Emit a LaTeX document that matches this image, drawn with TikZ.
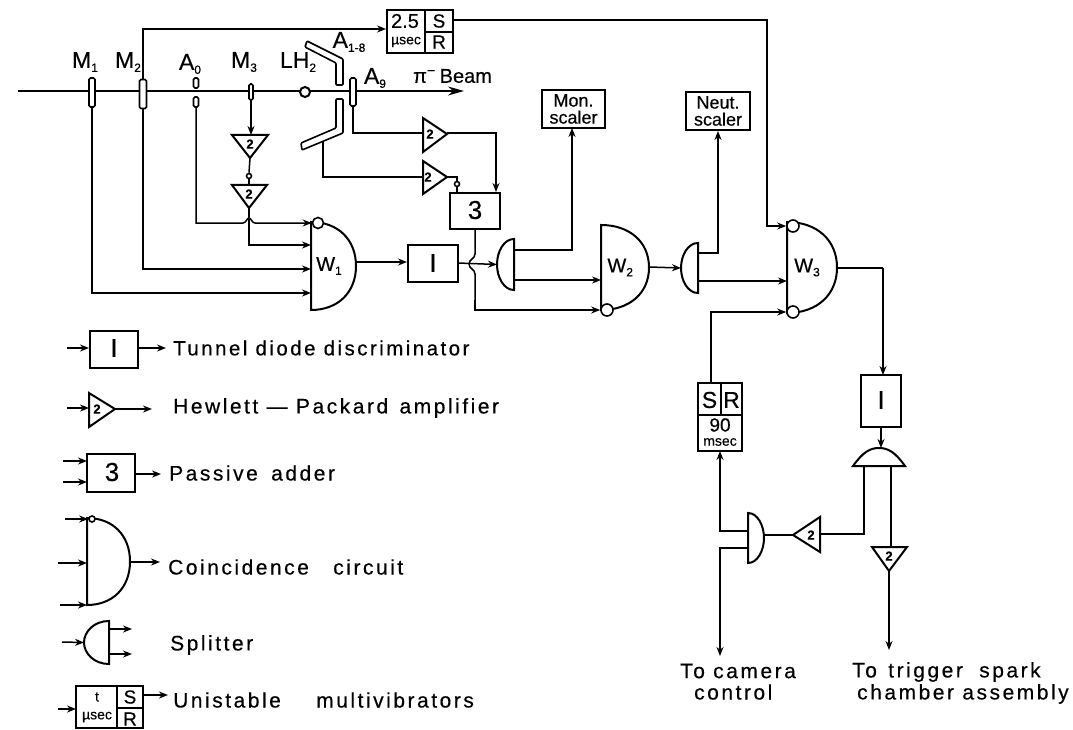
\documentclass[tikz,border=0pt]{standalone}
\usepackage{fontspec}
\setmainfont[FakeBold=0.4]{Liberation Sans}
\newfontfamily\wide[LetterSpace=12,FakeBold=0.4]{Liberation Sans}
\usetikzlibrary{arrows.meta}
\newcommand{\lowsub}[1]{\raisebox{-4pt}{\fontsize{12}{12}\selectfont #1}}
\tikzset{
  x=1pt,y=-1pt,
  line join=round,
  wire/.style={line width=1.5pt},
  arr/.style={wire,-{Stealth[length=9pt,width=7pt]}},
  blk/.style={draw,line width=2pt,inner sep=0pt},
  shape line/.style={line width=2pt},
  paddle/.style={draw,line width=1.6pt,fill=white,rounded corners=1.5pt,inner sep=0pt},
  bubble/.style={circle,draw,line width=1.6pt,fill=white,inner sep=0pt,minimum size=#1},
  lab/.style={font=\fontsize{23}{23}\selectfont,inner sep=0pt},
  small/.style={font=\fontsize{14}{14}\selectfont,inner sep=0pt},
  mid/.style={font=\fontsize{19}{19}\selectfont,inner sep=0pt,align=center},
  big/.style={font=\fontsize{26}{26}\selectfont,inner sep=0pt},
  legend/.style={anchor=west,inner sep=0pt,font=\fontsize{21}{21}\selectfont\wide},
  ampnum/.style={inner sep=0pt,font=\fontsize{13}{13}\selectfont\bfseries},
}
\newcommand{\dright}[6]{% name,x,top,bottom,width,label
  \draw[shape line] (#2,#3) -- (#2,#4) .. controls ({#2+0.6*#5},#4) and ({#2+#5},{(#3+#4)/2+0.30*(#4-#3)}) .. ({#2+#5},{(#3+#4)/2})
    .. controls ({#2+#5},{(#3+#4)/2-0.30*(#4-#3)}) and ({#2+0.6*#5},#3) .. cycle;
  \node[lab,font=\fontsize{20}{20}\selectfont] (#1) at ({#2+0.4*#5},{(#3+#4)/2}) {#6};}
\newcommand{\dleft}[5]{% name,x,top,bottom,width
  \draw[shape line] (#2,#3) -- (#2,#4) .. controls ({#2-0.6*#5},#4) and ({#2-#5},{(#3+#4)/2+0.25*(#4-#3)}) .. ({#2-#5},{(#3+#4)/2})
    .. controls ({#2-#5},{(#3+#4)/2-0.25*(#4-#3)}) and ({#2-0.6*#5},#3) .. cycle;
  \coordinate (#1) at ({#2-#5},{(#3+#4)/2});}
\newcommand{\amp}[5]{% name, p1,p2,p3 (apex), label pos
  \draw[shape line,fill=white] (#2) -- (#3) -- (#4) -- cycle;
  \node[ampnum] (#1) at (#5) {2};}
\begin{document}
\begin{tikzpicture}
\useasboundingbox (0,0) rectangle (1073,730);
% ---------- beam ----------
\coordinate (bs) at (18,91);
\coordinate (be) at (464,91);
\draw[wire,-{Stealth[length=16pt,width=9pt]}] (bs) -- (be);
\node[paddle,minimum width=6pt,minimum height=29pt] (M1p) at (92,92.5) {};
\node[paddle,minimum width=7pt,minimum height=29pt] (M2p) at (143,94) {};
\node[paddle,minimum width=5pt,minimum height=10pt] (A0a) at (196,83) {};
\node[paddle,minimum width=5pt,minimum height=10pt] (A0b) at (196,102) {};
\node[paddle,minimum width=4pt,minimum height=16pt] (M3p) at (251,92) {};
\node[circle,draw,line width=2pt,fill=white,inner sep=0pt,minimum size=10pt] (LH) at (305,92) {};
\node[paddle,minimum width=6pt,minimum height=28pt] (A9p) at (353,92) {};
% A1-8 counters
\draw[line width=1.6pt,fill=white,rounded corners=1pt] (307,41) -- (343,59) -- (343,85) -- (336,85) -- (336,63) -- (305,47) -- cycle;
\draw[line width=1.6pt,fill=white,rounded corners=1pt] (336,99) -- (343,99) -- (343,133) -- (302,150) -- (301,143) -- (336,128) -- cycle;
\coordinate (Alow) at (323,142);
% labels
\node[lab] (tM1) at (85,62) {M\lowsub{1}};
\node[lab] (tM2) at (128,62) {M\lowsub{2}};
\node[lab] (tA0) at (190,64) {A\lowsub{0}};
\node[lab] (tM3) at (244,62) {M\lowsub{3}};
\node[lab] (tLH) at (298,62) {LH\lowsub{2}};
\node[lab] (tA18) at (349,42) {A\lowsub{1-8}};
\node[lab] (tA9) at (375,78) {A\lowsub{9}};
\node[lab,anchor=west,font=\fontsize{20}{20}\selectfont] (tbeam) at (413,76) {π\textsuperscript{−}\hspace{4pt}{Beam}};
% ---------- blocks ----------
\node[blk,minimum width=66pt,minimum height=43pt] (U) at (420,31.5) {};
\draw[line width=1.6pt] (425,10) -- (425,53) (425,32) -- (453,32);
\node[mid,font=\fontsize{20}{20}\selectfont] (U1) at (405,21) {2.5};
\node[small] (U2) at (406,42) {µsec};
\node[mid] (U3) at (439,21) {S};
\node[mid] (U4) at (439,42) {R};
\node[blk,minimum width=50pt,minimum height=37pt] (D1) at (433,263.5) {};
\node[big] (D1t) at (433,263) {I};
\node[blk,minimum width=50pt,minimum height=36pt] (Add) at (475,211) {};
\node[big] (Addt) at (475,210) {3};
\node[blk,minimum width=63pt,minimum height=38pt,mid,font=\fontsize{18}{17}\selectfont] (Mon) at (573.5,109) {Mon.\\scaler};
\node[blk,minimum width=64pt,minimum height=38pt,mid,font=\fontsize{18}{17}\selectfont] (Neut) at (718,111) {Neut.\\scaler};
\node[blk,minimum width=40pt,minimum height=52pt] (D2) at (881,401) {};
\node[big] (D2t) at (881,400) {I};
\node[blk,minimum width=44pt,minimum height=68pt] (SR) at (720,417) {};
\draw[line width=1.6pt] (698,415) -- (742,415) (721,383) -- (721,415);
\node[mid,font=\fontsize{23}{23}\selectfont] (SR1) at (709.5,400) {S};
\node[mid,font=\fontsize{23}{23}\selectfont] (SR2) at (731.5,400) {R};
\node[mid,font=\fontsize{19}{19}\selectfont] (SR3) at (720,425) {90};
\node[small] (SR4) at (720,442) {msec};
% amplifiers
\amp{a1}{232,135}{268,135}{250,158}{250,144}
\amp{a2}{232,185}{267,185}{249,208}{249,194}
\amp{a3}{423,118}{423,152}{447,134}{430,134}
\amp{a4}{423,161}{423,194}{447,177}{428,177}
\amp{a5}{820,517}{820,552}{793,535}{811,535}
\amp{a6}{872,547}{907,547}{889,571}{889,556}
% coincidence
\dright{W1}{311}{222}{310}{45}{W\lowsub{1}}
\dright{W2}{601}{225}{310}{48}{W\lowsub{2}}
\dright{W3}{787}{222}{313}{50}{W\lowsub{3}}
\dleft{s1}{514}{239}{290}{17}
\dleft{s2}{698}{243}{293}{17}
\dleft{s4}{748}{513}{563}{-16}
% splitter 3 (dome)
\draw[shape line] (853,466) -- (905,466) .. controls (895,452) and (888,448) .. (879,448) .. controls (870,448) and (863,452) .. (853,466) -- cycle;
\coordinate (s3) at (879,448);
% bubbles
\node[bubble=11pt] (b1) at (318,223) {};
\node[bubble=12pt] (b2) at (607,310) {};
\node[bubble=12pt] (b3) at (793,226) {};
\node[bubble=12pt] (b4) at (793,312) {};
\node[bubble=5pt] (b5) at (249,176) {};
\node[bubble=5pt] (b6) at (457,184) {};
% ---------- connectors ----------
\coordinate (c2) at (143,29);
\coordinate (c3) at (453,20); \coordinate (c4) at (767,20);
\draw[arr] (M2p.north) -- (c2) -- (U.west |- c2);
\draw[arr] (c3) -- (c4) |- (b3.west);
\draw[arr] (M3p.south) -- (251,135);
\draw[wire] (250,158) -- (b5.north);
\draw[wire] (b5.south) -- (249,185);
\draw[arr] (249,208) -- (249,245) -- (311,245);
\draw[arr] (A0b.south) -- (196,223) -- (243,223) .. controls (246,223) and (247,218) .. (249,218) .. controls (251,218) and (252,223) .. (255,223) -- (b1.west);
\draw[arr] (M2p.south) |- (311,269);
\draw[arr] (M1p.south) |- (311,293);
\draw[wire] (A9p.south) |- (423,133);
\draw[arr] (447,133) -| (Add.north -| 496,0);
\draw[wire] (Alow) |- (423,177);
\draw[wire] (447,177) -| (b6.north);
\draw[wire] (b6.south) -- (457,193);
\draw[arr] (355,262) -- (D1.west |- 0,262);
\draw[arr] (458,263) -- (s1);
\draw[wire] (475,229) -- (475,254) .. controls (475,259) and (469,259) .. (469,264) .. controls (469,269) and (475,269) .. (475,274) -- (475,300);
\draw[arr] (475,300) |- (b2.west);
\draw[arr] (514,250) -- (572,250) -- (572,128);
\draw[arr] (514,280) -- (601,280);
\draw[arr] (649,267) -- (s2);
\draw[arr] (698,253) -- (718,253) -- (Neut.south);
\draw[arr] (698,281) -- (787,281);
\draw[wire] (837,268) -- (883,268);
\draw[arr] (883,268) -- (883,375);
\draw[arr] (881,427) -- (881,448);
\draw[wire] (864,466) -- (864,534) -- (820,534);
\draw[wire] (891,466) -- (891,547);
\draw[arr] (889,571) -- (889,650);
\draw[wire] (793,535) -- (764,535);
\draw[arr] (748,531) -- (720,531) -- (720,451);
\draw[arr] (748,548) -- (720,548) -- (720,656);
\draw[arr] (711,383) |- (b4.west);
% ---------- legend ----------
\node[blk,minimum width=48pt,minimum height=37pt] (L1) at (114,349.5) {};
\node[big] (L1t) at (114,348) {I};
\coordinate (L1i) at (67,348); \coordinate (L1o) at (166,348);
\draw[arr] (L1i) -- (L1.west |- L1i); \draw[arr] (L1.east |- L1o) -- (L1o);
\node[legend,font=\fontsize{20.5}{20.5}\selectfont\wide] (T1) at (173,348) {Tunnel diode discriminator};
\draw[shape line] (89,393) -- (89,427) -- (115,409) -- cycle;
\node[ampnum] (L2) at (97,409) {2};
\coordinate (L2i) at (67,408); \coordinate (L2o) at (152,409); \coordinate (L2a) at (89,408); \coordinate (L2b) at (115,409);
\draw[arr] (L2i) -- (L2a); \draw[arr] (L2b) -- (L2o);
\node[legend] (T2) at (173,408) {Hewlett — Packard\hspace{3pt} amplifier};
\node[blk,minimum width=48pt,minimum height=38pt] (L3) at (111,473) {};
\node[big] (L3t) at (112,472) {3};
\coordinate (L3a) at (63,461); \coordinate (L3b) at (63,482); \coordinate (L3c) at (161,474);
\draw[arr] (L3a) -- (87,461); \draw[arr] (L3b) -- (87,482); \draw[arr] (135,474) -- (L3c);
\node[legend] (T3) at (169,473) {Passive\hspace{5pt} adder};
\dright{L4}{87}{518}{605}{43}{}
\node[bubble=6pt] (L4b) at (92,519) {};
\coordinate (L4a) at (65,519); \coordinate (L4c) at (58,563); \coordinate (L4d) at (60,605); \coordinate (L4o) at (160,562);
\draw[arr] (L4a) -- (L4b.west); \draw[arr] (L4c) -- (87,563); \draw[arr] (L4d) -- (87,605); \draw[arr] (130,562) -- (L4o);
\node[legend] (T4) at (168,567) {Coincidence\hspace{16pt} circuit};
\dleft{L5}{109}{621}{664}{25}
\coordinate (L5a) at (62,642);
\draw[arr] (L5a) -- (L5);
\draw[arr] (109,629) -- (132,629); \draw[arr] (109,654) -- (132,654);
\node[legend] (T5) at (170,645) {Splitter};
\node[blk,minimum width=67pt,minimum height=42pt] (L6) at (109.5,707) {};
\draw[line width=1.6pt] (117,686) -- (117,728) (117,708) -- (143,708);
\node[small] (L6a) at (97,697) {t};
\node[small] (L6b) at (97,717) {µsec};
\node[mid] (L6c) at (130,697) {S};
\node[mid] (L6d) at (130,719) {R};
\coordinate (L6i) at (58,709); \coordinate (L6o) at (168,695);
\draw[arr] (L6i) -- (76,709); \draw[arr] (143,695) -- (L6o);
\node[legend] (T6) at (173,700) {Unistable\hspace{27pt} multivibrators};
% ---------- bottom labels ----------
\node[anchor=west,inner sep=0pt,font=\fontsize{21}{21}\selectfont\wide] (Cam) at (680,671) {To camera};
\node[anchor=west,inner sep=0pt,font=\fontsize{21}{21}\selectfont\wide] (Cam2) at (694,692) {control};
\node[anchor=west,inner sep=0pt,font=\fontsize{21}{21}\selectfont\wide] (Trig) at (852,672) {To\hspace{3pt} trigger\hspace{8pt} spark};
\node[anchor=west,inner sep=0pt,font=\fontsize{21}{21}\selectfont\wide] (Trig2) at (857,694) {chamber assembly};
\end{tikzpicture}
\end{document}
